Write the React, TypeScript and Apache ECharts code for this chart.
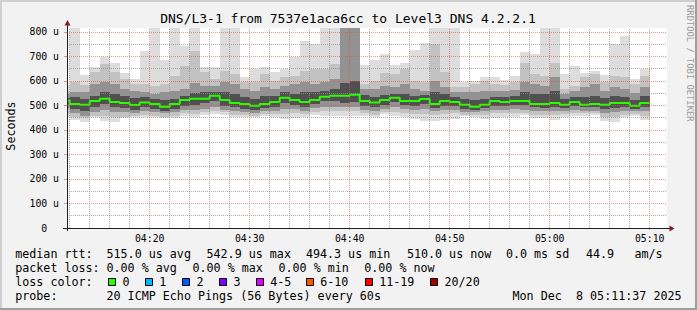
import React, { useEffect, useRef } from 'react';
import * as echarts from 'echarts';

const FONT = "'DejaVu Sans Mono', monospace";
const TITLE = 'DNS/L3-1 from 7537e1aca6cc to Level3 DNS 4.2.2.1';
const Y_TITLE = 'Seconds';
const WATERMARK = 'RRDTOOL / TOBI OETIKER';

// x in minutes since midnight (04:11:44 .. 05:11:44)
const X_MIN = 251.73;
const X_MAX = 311.73;
const Y_MAX = 816.3;

const firstFullMinute = 252;
const columnStarts = [X_MIN, ...Array.from({ length: 58 }, (_, i) => firstFullMinute + i)];
const columnEnds = Array.from({ length: 59 }, (_, i) => firstFullMinute + i);

// per-minute ping distribution (microseconds)
const maxRtt = [584,830,626,658,699,673,633,608,724,830,687,830,744,830,656,656,830,830,615,649,658,635,649,697,765,751,830,830,900,900,667,687,710,667,673,728,755,830,830,830,595,601,618,618,604,622,717,710,830,830,629,660,633,640,624,751,782,608,649];
const upper2 = [560,595,585,638,669,638,608,588,588,581,588,622,663,724,635,608,642,629,595,595,629,601,615,622,642,649,649,669,880,900,588,601,633,629,649,601,595,751,635,574,574,588,601,588,585,595,672,629,622,672,567,581,615,629,595,622,615,588,622];
const upper3 = [545,554,554,588,595,588,567,561,554,547,554,561,567,590,581,581,595,588,567,561,574,567,581,588,595,588,595,608,850,870,567,567,581,574,588,567,561,601,574,554,554,554,561,561,561,563,595,588,581,615,547,561,574,588,561,574,567,550,574];
const upper4 = [532,533,527,540,554,547,540,531,533,527,522,527,540,550,554,554,554,547,533,527,540,540,554,547,554,554,561,567,590,600,544,533,544,547,547,540,544,554,547,533,527,522,527,536,533,540,554,547,547,561,527,533,536,540,531,540,533,522,540];
const median = [520,506,503,518,528,514,510,502,512,506,495,506,522,528,528,540,522,510,506,499,506,514,532,522,514,522,536,540,540,544,518,512,522,532,518,518,527,506,518,514,503,495,503,518,514,518,518,506,506,510,503,514,503,506,503,510,510,499,510];
const lower4 = [505,486,479,493,506,493,490,482,493,486,479,486,499,503,509,520,499,493,486,482,490,495,509,503,495,506,517,517,512,513,499,493,503,513,503,499,506,490,499,499,486,482,490,499,499,503,503,493,490,493,490,499,493,493,486,490,493,486,493];
const lower3 = [490,468,459,472,482,472,472,468,476,472,468,472,482,480,486,495,482,476,472,468,476,479,486,486,479,490,493,495,493,493,482,476,486,493,486,482,486,476,482,482,472,472,476,482,482,486,482,476,476,476,476,482,479,479,468,472,476,476,476];
const lower2 = [470,454,447,459,459,452,454,457,463,459,454,459,468,465,472,476,472,463,463,459,465,465,465,468,465,472,476,476,476,476,468,463,472,472,468,465,465,463,465,468,463,463,463,468,468,468,468,463,463,463,465,468,468,468,452,452,463,465,459];
const minRtt = [455,441,434,452,438,434,448,452,452,452,448,448,459,452,463,465,463,452,454,452,459,454,445,449,454,463,459,459,459,459,459,452,465,459,454,445,438,438,442,445,459,454,445,448,452,454,463,449,448,441,454,459,459,463,438,434,452,459,441];

const xMajorMinutes = [260, 270, 280, 290, 300, 310];
const xMinorMinutes = [252,254,256,258,262,264,266,268,272,274,276,278,282,284,286,288,292,294,296,298,302,304,306,308];
const yMajor = [100, 200, 300, 400, 500, 600, 700, 800];
const yMinor = [50, 150, 250, 350, 450, 550, 650, 750];

const legendRow1: [string, number][] = [['median rtt:', 15.2], ['515.0 us avg', 106.5], ['542.9 us max', 206.5], ['494.3 us min', 305.9], ['510.0 us now', 406.9], ['0.0 ms sd', 505.9], ['44.9', 585.9], ['am/s', 634.5]];
const legendRow2: [string, number][] = [['packet loss:', 15.2], ['0.00 % avg', 106.5], ['0.00 % max', 192.5], ['0.00 % min', 278.5], ['0.00 % now', 364.2]];
const legendRow3: [string, number][] = [['loss color:', 15.2]];
const lossLabels = ['0', '1', '2', '3', '4-5', '6-10', '11-19', '20/20'];
const lossColors = ['#26ff00', '#00b8ff', '#0059ff', '#7e00ff', '#dd00ff', '#ff5500', '#ff0000', '#a10000'];
const lossBoxX = [108, 145, 182, 219, 256, 306, 365, 430];
const lossLabelX = [122.5, 159.2, 196.5, 233.5, 270.2, 320.2, 379.2, 444.5];
const legendRow4: [string, number][] = [['probe:', 15.2], ['20 ICMP Echo Pings (56 Bytes) every 60s', 106.5], ['Mon Dec', 512.5], ['8 05:11:37 2025', 576]];

const LAYERS = [
  { lo: minRtt, hi: maxRtt, color: '#dddddd' },
  { lo: lower2, hi: upper2, color: '#c2c2c2' },
  { lo: lower3, hi: upper3, color: '#929292' },
  { lo: lower4, hi: upper4, color: '#505050' },
];

const MAJOR_GRID = 'rgba(222,79,79,0.6)';
const MINOR_GRID = 'rgba(143,143,143,0.75)';

function txt(text: string, x: number, y: number, size: number, extra: any = {}) {
  return {
    type: 'text',
    x,
    y,
    z: 100,
    silent: true,
    ...extra,
    style: {
      text,
      x: 0,
      y: 0,
      fill: extra.fill || '#000',
      fontSize: size,
      fontFamily: FONT,
      font: `${size}px ${FONT}`,
      textAlign: extra.align || 'left',
      align: extra.align || 'left',
      textVerticalAlign: 'middle',
      verticalAlign: 'middle',
    },
  };
}

function fmtMinutes(v: number) {
  const h = Math.floor(v / 60);
  const m = Math.round(v - h * 60);
  return `${String(h).padStart(2, '0')}:${String(m).padStart(2, '0')}`;
}

export default function App() {
  const ref = useRef<HTMLDivElement>(null);

  useEffect(() => {
    if (!ref.current) return;
    const chart = echarts.init(ref.current, null, { renderer: 'svg' });

    const smokeSeries = LAYERS.map((layer, li) => ({
      type: 'custom',
      name: 'smoke' + li,
      z: 1 + li * 0.01,
      silent: true,
      clip: true,
      encode: { x: [0, 1], y: [2, 3] },
      data: columnStarts.map((t0, i) => [t0, columnEnds[i], layer.lo[i], layer.hi[i]]),
      renderItem: (params: any, api: any) => {
        const t0 = api.value(0);
        const t1 = api.value(1);
        const lo = api.value(2);
        const hi = Math.min(api.value(3), Y_MAX);
        const a = api.coord([t0, hi]);
        const b = api.coord([t1, lo]);
        const x0 = Math.round(a[0]);
        const x1 = Math.round(b[0]);
        const y0 = Math.round(a[1]);
        const y1 = Math.round(b[1]);
        return {
          type: 'rect',
          shape: { x: x0, y: y0, width: x1 - x0, height: y1 - y0 },
          style: { fill: layer.color },
        };
      },
    }));

    const dash = [1, 1];
    const gridSeries = {
      type: 'line',
      name: 'grid',
      z: 3,
      silent: true,
      data: [],
      markLine: {
        silent: true,
        symbol: ['none', 'none'],
        label: { show: false },
        emphasis: { disabled: true },
        animation: false,
        data: [
          ...xMinorMinutes.map((v) => ({ xAxis: v, lineStyle: { color: MINOR_GRID, type: dash, width: 1 } })),
          ...yMinor.map((v) => ({ yAxis: v, lineStyle: { color: MINOR_GRID, type: dash, width: 1 } })),
          ...xMajorMinutes.map((v) => ({ xAxis: v, lineStyle: { color: MAJOR_GRID, type: dash, width: 1 } })),
          ...yMajor.map((v) => ({ yAxis: v, lineStyle: { color: MAJOR_GRID, type: dash, width: 1 } })),
        ],
      },
    };

    const medianData = columnStarts.map((t, i) => [t, median[i]]);
    medianData.push([columnEnds[columnEnds.length - 1], median[median.length - 1]]);

    const medianSeries = {
      type: 'line',
      name: 'median',
      z: 4,
      silent: true,
      step: 'end',
      symbol: 'none',
      data: medianData,
      lineStyle: { color: '#26ff00', width: 2 },
    };

    const legendEls: any[] = [];
    const rowsY = [254.3, 268.3, 282, 296];
    [legendRow1, legendRow2, legendRow3, legendRow4].forEach((row, ri) => {
      row.forEach(([t, x]) => legendEls.push(txt(t, x, rowsY[ri], 11.7)));
    });
    lossLabels.forEach((lab, i) => {
      legendEls.push({
        type: 'rect',
        z: 100,
        silent: true,
        shape: { x: lossBoxX[i] + 0.5, y: 278.5, width: 7, height: 7 },
        style: { fill: lossColors[i], stroke: '#000', lineWidth: 1 },
      });
      legendEls.push(txt(lab, lossLabelX[i], rowsY[2], 11.7));
    });

    const option: any = {
      animation: false,
      backgroundColor: '#f2f2f2',
      grid: {
        left: 67,
        top: 28,
        width: 600,
        height: 200,
        show: true,
        backgroundColor: '#ffffff',
        borderWidth: 0,
      },
      xAxis: {
        type: 'value',
        min: X_MIN,
        max: X_MAX,
        splitNumber: 6,
        z: 10,
        axisLine: { show: true, lineStyle: { color: '#1f1f1f', width: 1 } },
        axisTick: { show: true, length: 2, lineStyle: { color: MAJOR_GRID } },
        splitLine: { show: false },
        axisLabel: {
          showMinLabel: false,
          showMaxLabel: false,
          margin: 5,
          color: '#000',
          fontFamily: FONT,
          fontSize: 9.8,
          formatter: (v: number) => fmtMinutes(v),
        },
      },
      yAxis: {
        type: 'value',
        min: 0,
        max: Y_MAX,
        interval: 100,
        z: 10,
        axisLine: { show: true, lineStyle: { color: '#1f1f1f', width: 1 } },
        axisTick: { show: true, length: 3, lineStyle: { color: MAJOR_GRID } },
        splitLine: { show: false },
        axisLabel: {
          showMaxLabel: false,
          margin: 8,
          color: '#000',
          fontFamily: FONT,
          fontSize: 9.8,
          formatter: (v: number) => (v === 0 ? '{z|0}' : `${v} u`),
          rich: {
            z: { padding: [0, 11.8, 0, 0], fontFamily: FONT, fontSize: 9.8, color: '#000' },
          },
        },
      },
      series: [...smokeSeries, gridSeries, medianSeries],
      graphic: {
        elements: [
          // frame
          { type: 'rect', z: 100, silent: true, shape: { x: 0, y: 0, width: 697, height: 2 }, style: { fill: '#cfcfcf' } },
          { type: 'rect', z: 100, silent: true, shape: { x: 0, y: 0, width: 2, height: 310 }, style: { fill: '#cfcfcf' } },
          { type: 'rect', z: 101, silent: true, shape: { x: 695, y: 0, width: 2, height: 310 }, style: { fill: '#9e9e9e' } },
          { type: 'rect', z: 101, silent: true, shape: { x: 0, y: 308, width: 697, height: 2 }, style: { fill: '#9e9e9e' } },
          // axis extensions and arrows
          { type: 'line', z: 100, silent: true, shape: { x1: 63, y1: 228.5, x2: 670, y2: 228.5 }, style: { stroke: '#1f1f1f', lineWidth: 1 } },
          { type: 'line', z: 100, silent: true, shape: { x1: 67.5, y1: 231, x2: 67.5, y2: 23 }, style: { stroke: '#1f1f1f', lineWidth: 1 } },
          { type: 'polygon', z: 101, silent: true, shape: { points: [[64.5, 25.5], [70.5, 25.5], [67.5, 20]] }, style: { fill: '#801f1f' } },
          { type: 'polygon', z: 101, silent: true, shape: { points: [[669.5, 225.5], [669.5, 231.5], [674.5, 228.5]] }, style: { fill: '#801f1f' } },
          // texts
          txt(TITLE, 348, 18.8, 13, { align: 'center' }),
          txt(Y_TITLE, 11, 126, 11.7, { align: 'center', rotation: Math.PI / 2 }),
          txt(WATERMARK, 690, 63.3, 8.8, { align: 'center', rotation: -Math.PI / 2, fill: '#9a9a9a' }),
          ...legendEls,
        ],
      },
    };

    chart.setOption(option);
    return () => {
      chart.dispose();
    };
  }, []);

  return (
    <div
      ref={ref}
      style={{ position: 'absolute', left: 0, top: 0, width: 697, height: 310 }}
    />
  );
}
